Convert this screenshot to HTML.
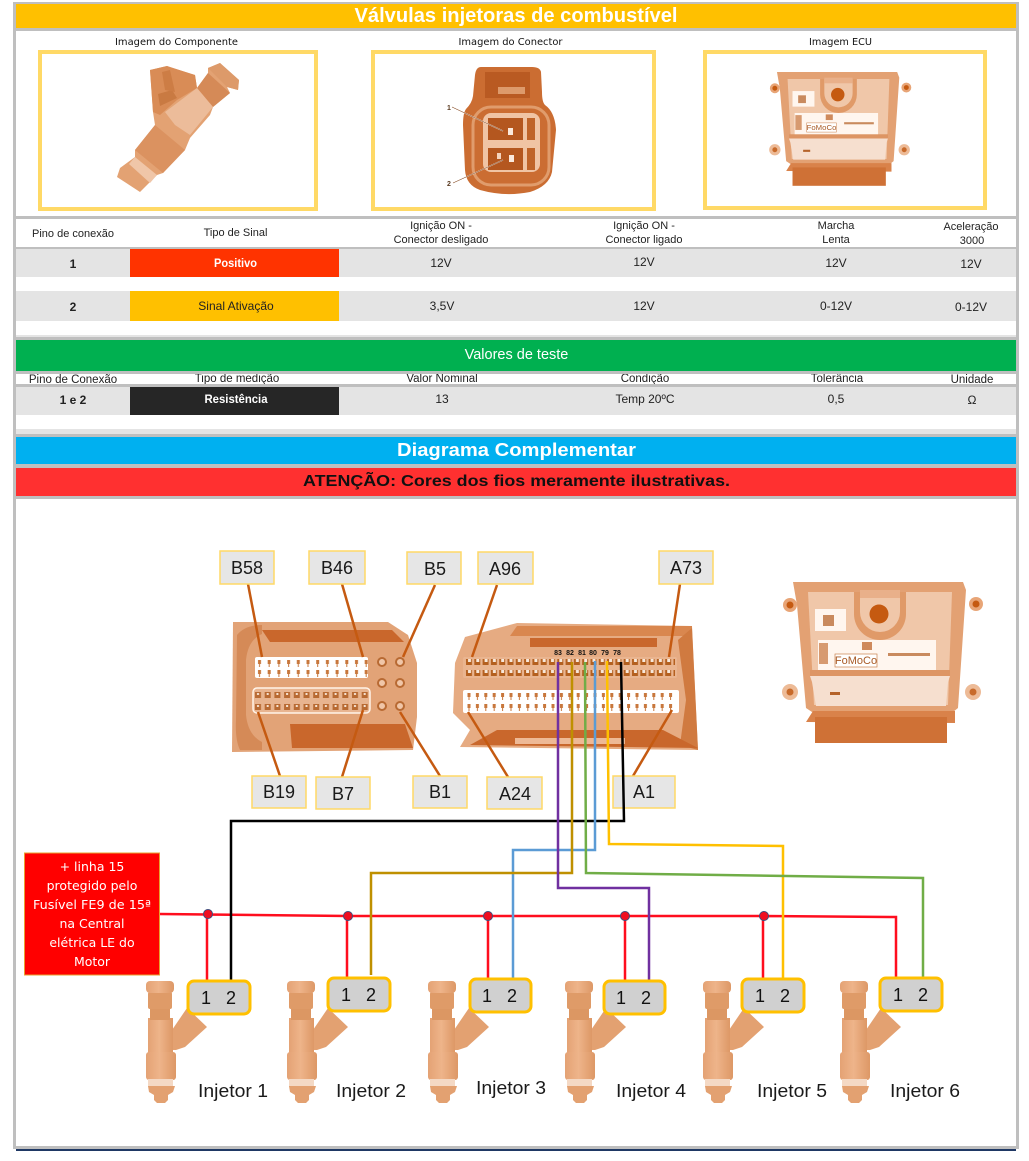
<!DOCTYPE html>
<html lang="pt"><head><meta charset="utf-8"><title>Válvulas injetoras de combustível</title>
<style>
html,body{margin:0;padding:0;background:#fff;width:1029px;height:1161px;overflow:hidden}
svg{display:block}
text{font-family:"Liberation Sans",sans-serif}
.t{font-size:11px;fill:#222;text-anchor:middle}
.v{font-size:12px;fill:#222;text-anchor:middle}
.d{font-family:"DejaVu Sans",sans-serif;font-size:10px;fill:#111;text-anchor:middle}
.l{font-size:18px;fill:#1a1a1a;text-anchor:middle}
.p{font-size:18px;fill:#111;text-anchor:middle}
.w{fill:#fff;font-family:"DejaVu Sans",sans-serif;font-size:12.5px;text-anchor:middle}
.lb{fill:#e6e6e6;stroke:#ffd966;stroke-width:1.5}
.ld{stroke:#c55a11;stroke-width:2.5;fill:none}
.wire{fill:none;stroke-width:2.5}
.cb{fill:#d0d0d0;stroke:#ffc000;stroke-width:3}
</style></head><body>
<svg width="1029" height="1161" viewBox="0 0 1029 1161" xmlns="http://www.w3.org/2000/svg">
<defs>
<linearGradient id="ig" x1="0" x2="1" y1="0" y2="0"><stop offset="0" stop-color="#e4a274"/><stop offset=".45" stop-color="#eeb48a"/><stop offset="1" stop-color="#dd9866"/></linearGradient>
<pattern id="pinW" width="9.7" height="21" patternUnits="userSpaceOnUse" x="255" y="657"><path d="M3 3h3v4h-1v3h-1v-3h-1zM3 13h3v4h-1v3h-1v-3h-1z" fill="#c8773c"/></pattern>
<pattern id="pinB" width="9.7" height="12" patternUnits="userSpaceOnUse" x="254" y="690"><path d="M1 2h6v6h-6z" fill="#b86a33"/><path d="M3 3h2v2h-2z" fill="#f6e3d2"/></pattern>
<pattern id="pinA" width="8.3" height="11" patternUnits="userSpaceOnUse" x="465" y="657"><path d="M1 2h6v6h-6z" fill="#b4601f"/><path d="M3 2h3v3h-3z" fill="#f8e8da"/></pattern>
<pattern id="pinC" width="8.4" height="11" patternUnits="userSpaceOnUse" x="465" y="690"><path d="M2.500 3h3v4h-1v3h-1v-3h-1z" fill="#c8773c"/></pattern>
<g id="inj">
<path d="M160 1030 172 1030 187 1008 207 1027 185 1047 176 1050 160 1050Z" fill="#e3a171"/>
<rect x="148" y="1018" width="25" height="36" fill="url(#ig)"/>
<rect x="150" y="1006" width="20" height="14" fill="#dc9763"/>
<rect x="148" y="992" width="24" height="17" rx="2" fill="#df9b68"/>
<rect x="146" y="981" width="28" height="12" rx="4" fill="url(#ig)"/>
<rect x="146" y="1052" width="30" height="28" rx="3" fill="url(#ig)"/>
<rect x="148" y="1079" width="25" height="8" fill="#f4d9c5"/>
<path d="M148 1086h27l-2 6-5 3v5l-3 3h-8l-3-3v-5l-5-3Z" fill="#e3a171"/>
</g>
<g id="ecuShape">
<circle cx="20" cy="35" r="7" fill="#e8a577"/><circle cx="20" cy="35" r="3.500" fill="#c55a11"/>
<circle cx="206" cy="34" r="7" fill="#e8a577"/><circle cx="206" cy="34" r="3.500" fill="#c55a11"/>
<circle cx="20" cy="122" r="8" fill="#edbb97"/><circle cx="20" cy="122" r="3.500" fill="#c86a2a"/>
<circle cx="203" cy="122" r="8" fill="#edbb97"/><circle cx="203" cy="122" r="3.500" fill="#c86a2a"/>
<path d="M23 12H193L196 20 188 138 178 146H48L36 138 27 35Z" fill="#e3a173"/>
<path d="M38 22H182L178 135H44Z" fill="#f0c7a9"/>
<path d="M40 106H180L178 112 176 136H46L42 112Z" fill="#f6dfcf"/>
<path d="M40 100H180V106H40Z" fill="#dd9564"/>
<path d="M36 152 43 141 185 141 185 153Z" fill="#d9824a"/>
<rect x="45" y="147" width="132" height="26" fill="#cf7136"/>
<path d="M84 44a26 26 0 0 0 52 0V22h-6v20a20 20 0 0 1-40 0V22h-6Z" fill="#e09a68"/>
<rect x="90" y="20" width="40" height="8" fill="#e9b08a"/>
<circle cx="109" cy="44" r="9.500" fill="#c55a11"/>
<rect x="45" y="39" width="31" height="22" fill="#fff6ef"/>
<rect x="53" y="45" width="11" height="11" fill="#c98a5e"/>
<rect x="48" y="70" width="118" height="30" fill="#fff6ef"/>
<rect x="49" y="73" width="9" height="21" fill="#d79a70"/>
<rect x="65" y="84" width="42" height="13" fill="#fff" stroke="#c8824f" stroke-width=".7"/>
<rect x="92" y="72" width="10" height="8" fill="#cf8a5c"/>
<rect x="118" y="83" width="42" height="3" fill="#c98a5e"/>
<rect x="60" y="122" width="10" height="3" fill="#b5632a"/>
</g>
</defs>

<!-- frame -->
<rect x="13" y="2" width="1006" height="1147" fill="#bfbfbf"/>
<rect x="16" y="4" width="1000" height="1142" fill="#fff"/>
<rect x="16" y="1149" width="1000" height="2" fill="#1f3864"/>

<!-- header -->
<rect x="16" y="4" width="1000" height="24" fill="#ffc000"/>
<rect x="16" y="28" width="1000" height="3" fill="#bfbfbf"/>
<text x="516" y="22" text-anchor="middle" font-size="20" font-weight="700" fill="#fff" textLength="323" lengthAdjust="spacingAndGlyphs">Válvulas injetoras de combustível</text>
<text class="d" x="176.500" y="45" textLength="123" lengthAdjust="spacingAndGlyphs">Imagem do Componente</text>
<text class="d" x="510.500" y="45" textLength="104" lengthAdjust="spacingAndGlyphs">Imagem do Conector</text>
<text class="d" x="840.500" y="45" textLength="63" lengthAdjust="spacingAndGlyphs">Imagem ECU</text>
<g fill="none" stroke="#ffd966" stroke-width="4">
<rect x="40" y="52" width="276" height="157"/>
<rect x="373" y="52" width="281" height="157"/>
<rect x="705" y="52" width="280" height="156"/>
</g>

<!-- component injector -->
<g>
<path d="M150 70 167 66 172 68 195 75 197 88 208 73 208 68 220 63 239 80 238 90 227 87 230 93 213 107 210 115 190 138 185 150 163 173 157 175 140 192 117 177 120 168 135 157 135 150 155 125 153 112Z" fill="#e3a273"/>
<path d="M150 70 167 66 195 75 197 88 177 100 160 115 153 112Z" fill="#d98c56"/>
<path d="M158 94 172 90 177 98 160 106Z" fill="#c97a42"/>
<path d="M162 72 170 70 175 92 165 90Z" fill="#cd7d45"/>
<path d="M197 88 208 73 230 93 213 107Z" fill="#d58a57"/>
<path d="M208 68 220 63 239 80 238 90 227 87Z" fill="#dd9a6a"/>
<path d="M165 112 197 88 213 107 190 135 175 125Z" fill="#ecbc9a"/>
<path d="M155 125 185 150 163 173 135 150Z" fill="#db9260"/>
<path d="M135 157 157 175 150 183 129 164Z" fill="#f0c6a8"/>
</g>

<!-- connector photo -->
<g>
<path d="M481 67 Q476 67 475 75 L473 96 Q472 103 466 109 Q463 113 463 125 L465 170 Q466 185 480 190 Q505 197 530 192 Q549 186 552 172 L556 130 Q555 112 545 105 Q542 102 542 92 L541 72 Q540 67 532 67Z" fill="#cb6d32"/>
<rect x="473" y="107" width="76" height="78" rx="18" fill="none" stroke="#e09c6c" stroke-width="3"/>
<path d="M485 72h45v26h-45z" fill="#b95a22"/>
<rect x="498" y="87" width="27" height="7" fill="#dd9a6b"/>
<rect x="483" y="113" width="57" height="59" rx="8" fill="#f0c4a4"/>
<rect x="488" y="118" width="35" height="22" fill="#b4571f"/>
<rect x="488" y="148" width="35" height="22" fill="#b4571f"/>
<rect x="527" y="118" width="8" height="22" fill="#bf6429"/>
<rect x="527" y="148" width="8" height="22" fill="#bf6429"/>
<rect x="508" y="128" width="5" height="7" fill="#fbe9dc"/>
<rect x="497" y="153" width="4" height="6" fill="#f4d4bd"/>
<rect x="509" y="155" width="5" height="7" fill="#fbe9dc"/>
<path d="M452 107 503 131M453 183 503 160" stroke="#fff2e6" stroke-width="1.200"/>
<path d="M452 107 503 131M453 183 503 160" stroke="#6b3210" stroke-width=".5"/>
<text x="449" y="110" font-size="7" font-weight="700" fill="#5a3a20" text-anchor="middle">1</text>
<text x="449" y="186" font-size="7" font-weight="700" fill="#5a3a20" text-anchor="middle">2</text>
</g>

<!-- top ECU -->
<g transform="translate(760.700 63.500) scale(.707)"><use href="#ecuShape"/>
<text x="86" y="94" font-size="11" fill="#a85a26" text-anchor="middle">FoMoCo</text></g>

<!-- table 1 -->
<rect x="16" y="216" width="1000" height="3" fill="#bfbfbf"/>
<rect x="16" y="247" width="1000" height="2.500" fill="#bfbfbf"/>
<text class="t" x="73" y="237">Pino de conexão</text>
<text class="t" x="235.500" y="236">Tipo de Sinal</text>
<text class="t" x="441" y="229">Ignição ON -</text>
<text class="t" x="441" y="243">Conector desligado</text>
<text class="t" x="644" y="229">Ignição ON -</text>
<text class="t" x="644" y="243">Conector ligado</text>
<text class="t" x="836" y="229">Marcha</text>
<text class="t" x="836" y="243">Lenta</text>
<text class="t" x="971" y="230">Aceleração</text>
<text class="t" x="972" y="244">3000</text>

<rect x="16" y="249" width="1000" height="28" fill="#e4e4e4"/>
<rect x="130" y="249" width="209" height="28" fill="#ff3300"/>
<rect x="16" y="291" width="1000" height="30" fill="#e4e4e4"/>
<rect x="130" y="291" width="209" height="30" fill="#ffc000"/>
<rect x="16" y="335" width="1000" height="2" fill="#e4e4e4"/>
<text class="v" x="73" y="268" font-weight="700">1</text>
<text class="v" x="235.500" y="267" style="fill:#fff;font-weight:700" textLength="43" lengthAdjust="spacingAndGlyphs">Positivo</text>
<text class="v" x="441" y="267">12V</text><text class="v" x="644" y="266">12V</text><text class="v" x="836" y="267">12V</text><text class="v" x="971" y="268">12V</text>
<text class="v" x="73" y="311" font-weight="700">2</text>
<text class="v" x="236" y="310">Sinal Ativação</text>
<text class="v" x="442" y="310">3,5V</text><text class="v" x="644" y="310">12V</text><text class="v" x="836" y="310">0-12V</text><text class="v" x="971" y="311">0-12V</text>

<!-- section 2 -->
<text class="t" x="237" y="382" style="font-size:11.500px">Tipo de medição</text>
<text class="t" x="442" y="382" style="font-size:11.500px">Valor Nominal</text>
<text class="t" x="645" y="382" style="font-size:11.500px">Condição</text>
<text class="t" x="837" y="382" style="font-size:11.500px">Tolerância</text>
<rect x="16" y="337" width="1000" height="3" fill="#bfbfbf"/>
<rect x="16" y="340" width="1000" height="31" fill="#00b050"/>
<rect x="16" y="371" width="1000" height="3" fill="#bfbfbf"/>
<rect x="16" y="384" width="1000" height="3" fill="#bfbfbf"/>
<text x="516.500" y="359" font-size="14.500" fill="#fff" text-anchor="middle">Valores de teste</text>
<text class="t" x="73" y="383" style="font-size:11.500px">Pino de Conexão</text>
<text class="t" x="972" y="383" style="font-size:11.500px">Unidade</text>
<rect x="16" y="387" width="1000" height="28" fill="#e4e4e4"/>
<rect x="130" y="387" width="209" height="28" fill="#262626"/>
<rect x="16" y="429" width="1000" height="5" fill="#e4e4e4"/>
<rect x="16" y="434" width="1000" height="3" fill="#bfbfbf"/>
<text class="v" x="73" y="404" font-weight="700">1 e 2</text>
<text class="v" x="236" y="403" style="fill:#fff;font-weight:700" textLength="63" lengthAdjust="spacingAndGlyphs">Resistência</text>
<text class="v" x="442" y="403">13</text><text class="v" x="645" y="403">Temp 20ºC</text><text class="v" x="836" y="403">0,5</text><text class="v" x="972" y="404">Ω</text>

<rect x="16" y="437" width="1000" height="27" fill="#00b0f0"/>
<rect x="16" y="464" width="1000" height="4" fill="#bfbfbf"/>
<rect x="16" y="468" width="1000" height="28" fill="#ff3030"/>
<rect x="16" y="496" width="1000" height="3" fill="#bfbfbf"/>
<text x="516.500" y="456" font-size="18" font-weight="700" fill="#fff" text-anchor="middle" textLength="239" lengthAdjust="spacingAndGlyphs">Diagrama Complementar</text>
<text x="516.500" y="486" font-size="16" font-weight="700" fill="#111" text-anchor="middle" textLength="427" lengthAdjust="spacingAndGlyphs">ATENÇÃO: Cores dos fios meramente ilustrativas.</text>

<!-- connector B -->
<path d="M233 622H388L408 635 417 663V717L413 750 232 752Z" fill="#e2a377"/>
<path d="M262 630H392L404 642H270Z" fill="#c9672c"/>
<path d="M290 724H405L413 748H292Z" fill="#c9672c"/>
<path d="M237 635 Q245 625 262 625V634 Q248 640 246 660V715 Q248 735 262 742V750H240Q235 740 236 720Z" fill="#d58a57"/>
<rect x="255" y="657" width="113" height="21" rx="2" fill="#fff"/><rect x="255" y="657" width="113" height="21" fill="url(#pinW)"/>
<rect x="253" y="688" width="117" height="25" rx="4" fill="#e8b490" stroke="#fff3e8" stroke-width="1.500"/><rect x="254" y="690" width="115" height="22" fill="url(#pinB)"/>
<g fill="#f0c6a8" stroke="#b86a33" stroke-width="2"><circle cx="382" cy="662" r="4"/><circle cx="400" cy="662" r="4"/><circle cx="382" cy="683" r="4"/><circle cx="400" cy="683" r="4"/><circle cx="382" cy="706" r="4"/><circle cx="400" cy="706" r="4"/></g>

<!-- connector A -->
<path d="M465 637 517 623 692 626 698 750 460 747 470 730 453 713 455 663Z" fill="#e6ab82"/>
<path d="M517 626H692V636H510Z" fill="#d9874f"/>
<rect x="530" y="638" width="127" height="9" fill="#c9672c"/>
<path d="M678 640 692 628 698 750 680 745 686 700Z" fill="#d07a40"/>
<path d="M497 730H663L698 748 470 745Z" fill="#c9672c"/>
<rect x="515" y="738" width="110" height="6" fill="#eeb996"/>
<rect x="463" y="657" width="214" height="21" rx="2" fill="#eab590"/><rect x="465" y="657" width="210" height="21" fill="url(#pinA)"/>
<rect x="463" y="690" width="216" height="23" rx="2" fill="#fff"/><rect x="465" y="690" width="212" height="22" fill="url(#pinC)"/>
<g font-size="7" font-weight="700" fill="#111" text-anchor="middle"><text x="558" y="655">83</text><text x="570" y="655">82</text><text x="582" y="655">81</text><text x="593" y="655">80</text><text x="605" y="655">79</text><text x="617" y="655">78</text></g>

<!-- leaders -->
<g class="ld">
<path d="M248 584 262 657"/><path d="M342 584 363 657"/><path d="M435 585 403 657"/><path d="M497 585 472 657"/><path d="M680 584 669 657"/>
<path d="M258 712 280 776"/><path d="M363 710 342 777"/><path d="M400 712 440 776"/><path d="M468 712 508 777"/><path d="M672 710 633 776"/>
</g>

<!-- labels -->
<g>
<rect class="lb" x="220" y="551" width="54" height="33"/><text class="l" x="247" y="574">B58</text>
<rect class="lb" x="309" y="551" width="56" height="33"/><text class="l" x="337" y="574">B46</text>
<rect class="lb" x="407" y="552" width="54" height="32"/><text class="l" x="435" y="575">B5</text>
<rect class="lb" x="478" y="552" width="55" height="32"/><text class="l" x="505" y="575">A96</text>
<rect class="lb" x="659" y="551" width="54" height="33"/><text class="l" x="686" y="574">A73</text>
<rect class="lb" x="252" y="776" width="54" height="32"/><text class="l" x="279" y="798">B19</text>
<rect class="lb" x="316" y="777" width="54" height="32"/><text class="l" x="343" y="800">B7</text>
<rect class="lb" x="413" y="776" width="54" height="32"/><text class="l" x="440" y="798">B1</text>
<rect class="lb" x="487" y="777" width="55" height="32"/><text class="l" x="515" y="800">A24</text>
<rect class="lb" x="613" y="776" width="62" height="32"/><text class="l" x="644" y="798">A1</text>
</g>

<!-- big ECU -->
<g transform="translate(770 570)"><use href="#ecuShape"/>
<text x="86" y="94" font-size="11" fill="#a85a26" text-anchor="middle">FoMoCo</text></g>

<!-- injectors -->
<use href="#inj"/><use href="#inj" x="141"/><use href="#inj" x="282"/><use href="#inj" x="419"/><use href="#inj" x="557"/><use href="#inj" x="694"/>

<!-- wires -->
<g class="wire">
<path d="M160 914 348 916 764 916 896 917V978M207 914V980M347 916V978M488 916V978M625 916V980M763 916V978" stroke="#ff0d1e"/>
<path d="M621 662 624 821H231V980" stroke="#000"/>
<path d="M607 661 609 844 783 846V978" stroke="#ffc000"/>
<path d="M595 661V850H513V980" stroke="#5b9bd5"/>
<path d="M585 662 586 873 923 878V977" stroke="#70ad47"/>
<path d="M572 662V873H371V975" stroke="#bf9000"/>
<path d="M558 662V888H649V980" stroke="#7030a0"/>
</g>
<g fill="#f00d20" stroke="#3f4a7a" stroke-width="1"><circle cx="208" cy="914" r="4.500"/><circle cx="348" cy="916" r="4.500"/><circle cx="488" cy="916" r="4.500"/><circle cx="625" cy="916" r="4.500"/><circle cx="764" cy="916" r="4.500"/></g>

<!-- red box -->
<rect x="24.500" y="853" width="135" height="122" fill="#f00" stroke="#e8a030" stroke-width="1"/>
<g>
<text class="w" x="92" y="871">+ linha 15</text>
<text class="w" x="92" y="890">protegido pelo</text>
<text class="w" x="92" y="909" textLength="118" lengthAdjust="spacingAndGlyphs">Fusível FE9 de 15ª</text>
<text class="w" x="92" y="928">na Central</text>
<text class="w" x="92" y="947">elétrica LE do</text>
<text class="w" x="92" y="966">Motor</text>
</g>

<!-- plugs -->
<g>
<rect class="cb" x="188" y="981" width="62" height="33" rx="6"/><text class="p" x="206" y="1004">1</text><text class="p" x="231" y="1004">2</text>
<rect class="cb" x="328" y="978" width="62" height="33" rx="6"/><text class="p" x="346" y="1001">1</text><text class="p" x="371" y="1001">2</text>
<rect class="cb" x="470" y="979" width="61" height="33" rx="6"/><text class="p" x="487" y="1002">1</text><text class="p" x="512" y="1002">2</text>
<rect class="cb" x="604" y="981" width="61" height="33" rx="6"/><text class="p" x="621" y="1004">1</text><text class="p" x="646" y="1004">2</text>
<rect class="cb" x="742" y="979" width="62" height="33" rx="6"/><text class="p" x="760" y="1002">1</text><text class="p" x="785" y="1002">2</text>
<rect class="cb" x="880" y="978" width="62" height="33" rx="6"/><text class="p" x="898" y="1001">1</text><text class="p" x="923" y="1001">2</text>
</g>
<g font-size="18" fill="#1a1a1a">
<text x="198" y="1097" textLength="70" lengthAdjust="spacingAndGlyphs">Injetor 1</text>
<text x="336" y="1097" textLength="70" lengthAdjust="spacingAndGlyphs">Injetor 2</text>
<text x="476" y="1094" textLength="70" lengthAdjust="spacingAndGlyphs">Injetor 3</text>
<text x="616" y="1097" textLength="70" lengthAdjust="spacingAndGlyphs">Injetor 4</text>
<text x="757" y="1097" textLength="70" lengthAdjust="spacingAndGlyphs">Injetor 5</text>
<text x="890" y="1097" textLength="70" lengthAdjust="spacingAndGlyphs">Injetor 6</text>
</g>
</svg>
</body></html>
